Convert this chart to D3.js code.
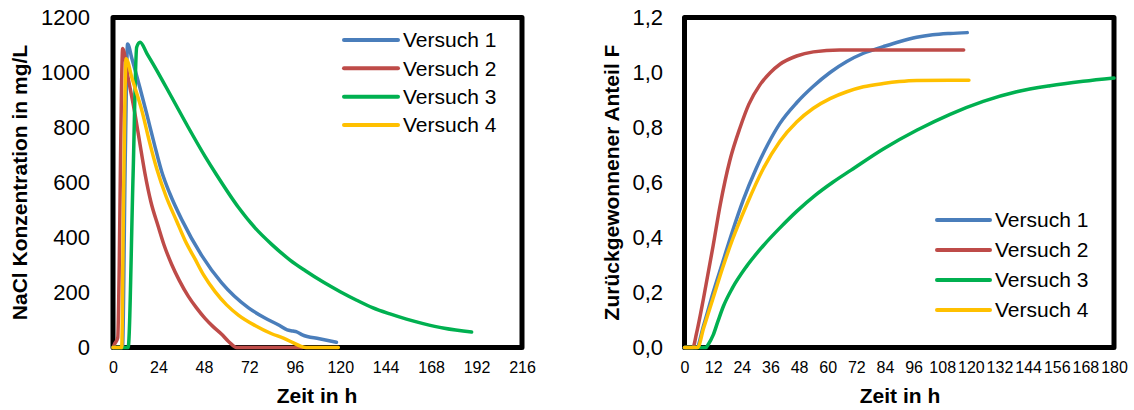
<!DOCTYPE html>
<html>
<head>
<meta charset="utf-8">
<script src="https://cdn.jsdelivr.net/npm/d3@7"></script>
<style>
  body { margin: 0; background: #fff; }
  svg { font-family: "Liberation Sans", Arial, sans-serif; }
</style>
</head>
<body>
<svg id="chart" width="1134" height="410"></svg>
<script>
// series names and colours
const seriesNames = ["Versuch 1", "Versuch 2", "Versuch 3", "Versuch 4"];
const seriesColors = ["#4A7EBB", "#BE4B48", "#00B050", "#FFC000"];

// left chart: NaCl concentration (mg/L) over time (h)
const concTime1 = [0, 5, 6.5, 7.7, 10, 14, 17.8, 22, 25.7, 30, 36.3, 46.8, 57.4, 71.4, 80, 88, 92, 95, 97, 100, 109, 118];
const conc1 = [0, 0, 700, 1104, 1050, 950, 850, 735, 640, 560, 465, 335, 235, 145, 108, 80, 64, 60, 57, 46, 32, 19];
const concTime2 = [0, 1, 2.5, 3.3, 4, 5.1, 8, 11.6, 14, 16.9, 20, 23.9, 27, 31, 35, 39.8, 44, 48.6, 53, 57.4, 61, 65.3, 100];
const conc2 = [0, 15, 35, 300, 700, 1087, 980, 850, 750, 632, 530, 440, 372, 302, 244, 186, 145, 106, 75, 48, 22, 0, 0];
const concTime3 = [0, 8, 10.6, 12.5, 14.3, 18, 22.2, 31, 39.8, 48.6, 54.5, 66.2, 75, 83.8, 93.5, 101.4, 111, 120, 128.7, 137, 146.3, 155, 163.8, 175, 189.4];
const conc3 = [0, 0, 625, 1092, 1110, 1068, 1019, 910, 800, 695, 630, 510, 435, 375, 318, 280, 238, 203, 172, 145, 122, 103, 87, 70, 56];
const concTime4 = [0, 4.6, 5.5, 6.9, 10, 15.5, 19, 23.1, 28, 33.6, 38, 43.3, 48, 53.9, 60, 66.2, 75, 83.8, 90, 95, 99, 102, 119];
const conc4 = [0, 0, 500, 1050, 980, 855, 755, 650, 550, 460, 390, 322, 262, 203, 155, 118, 80, 50, 34, 18, 5, 0, 0];
const concTicksX = [0, 24, 48, 72, 96, 120, 144, 168, 192, 216];
const concTicksY = [0, 200, 400, 600, 800, 1000, 1200];

// right chart: recovered fraction F over time (h)
const fracTime1 = [0, 5, 8, 12, 16, 20, 24.6, 30, 35, 40, 47, 54, 61, 68, 75, 83.3, 90, 97.3, 104, 111.3, 118.5];
const frac1 = [0, 0, 0.08, 0.2, 0.31, 0.42, 0.536, 0.65, 0.74, 0.815, 0.89, 0.95, 1.0, 1.04, 1.07, 1.094, 1.112, 1.128, 1.137, 1.142, 1.145];
const fracTime2 = [0, 3.5, 5, 8, 12, 15, 19, 23.3, 27, 31.6, 36, 40, 47, 54, 65, 117];
const frac2 = [0, 0, 0.05, 0.18, 0.37, 0.52, 0.68, 0.8, 0.885, 0.955, 1.0, 1.03, 1.06, 1.075, 1.082, 1.082];
const fracTime3 = [0, 9, 10, 12, 14, 16.3, 20, 26, 33, 40, 47, 55, 62, 69.8, 83.3, 97.3, 111.3, 125.2, 139.2, 153.2, 167.1, 180];
const frac3 = [0, 0, 0.012, 0.045, 0.095, 0.15, 0.215, 0.295, 0.37, 0.435, 0.495, 0.555, 0.6, 0.645, 0.722, 0.79, 0.848, 0.895, 0.93, 0.952, 0.968, 0.98];
const fracTime4 = [0, 5.5, 8, 12, 16, 20, 26.1, 33, 40, 47, 54, 61, 68, 75, 83.3, 90, 97.3, 111.3, 119.2];
const frac4 = [0, 0, 0.07, 0.18, 0.29, 0.39, 0.52, 0.65, 0.75, 0.82, 0.87, 0.905, 0.93, 0.948, 0.96, 0.967, 0.971, 0.972, 0.972];
const fracTicksX = [0, 12, 24, 36, 48, 60, 72, 84, 96, 108, 120, 132, 144, 156, 168, 180];
const fracTicksY = [0, 0.2, 0.4, 0.6, 0.8, 1.0, 1.2];

function zip(ts, vs) {
    return ts.map((t, i) => ({ t: t, v: vs[i] }));
}

const svg = d3.select("#chart");

drawChart({
    left: 113, right: 522, top: 17.5, bottom: 347.5,
    xMax: 216, yMax: 1200,
    xTicks: concTicksX, yTicks: concTicksY,
    yFormat: d3.format("d"),
    yPad: 23,
    yTitle: "NaCl Konzentration in mg/L", yTitleX: 27,
    xTitleX: 317,
    series: [zip(concTime1, conc1), zip(concTime2, conc2), zip(concTime3, conc3), zip(concTime4, conc4)],
    legend: { x1: 344, x2: 398, tx: 403, rows: [40, 68.3, 96.7, 125] }
});

drawChart({
    left: 684.5, right: 1114, top: 17.5, bottom: 347.5,
    xMax: 180, yMax: 1.2,
    xTicks: fracTicksX, yTicks: fracTicksY,
    yFormat: d => d.toFixed(1).replace(".", ","),
    yPad: 21.5,
    yTitle: "Zurückgewonnener Anteil F", yTitleX: 619,
    xTitleX: 900,
    series: [zip(fracTime1, frac1), zip(fracTime2, frac2), zip(fracTime3, frac3), zip(fracTime4, frac4)],
    legend: { x1: 937, x2: 990, tx: 995, rows: [220, 250, 280, 310] }
});

function drawChart(c) {
    let x = d3.scaleLinear().domain([0, c.xMax]).range([c.left, c.right]);
    let y = d3.scaleLinear().domain([0, c.yMax]).range([c.bottom, c.top]);

    // y tick labels
    let yAxis = svg.append("g")
        .attr("transform", "translate(" + c.left + ",0)")
        .call(d3.axisLeft(y).tickValues(c.yTicks).tickFormat(c.yFormat).tickSize(0).tickPadding(c.yPad));
    yAxis.select(".domain").remove();
    yAxis.selectAll("text").attr("font-size", 22).attr("fill", "#000")
        .style("font-family", "'Liberation Sans', Arial, sans-serif");

    // x tick labels
    let xAxis = svg.append("g")
        .attr("transform", "translate(0," + c.bottom + ")")
        .call(d3.axisBottom(x).tickValues(c.xTicks).tickSize(0).tickPadding(14));
    xAxis.select(".domain").remove();
    xAxis.selectAll("text").attr("font-size", 16).attr("fill", "#000")
        .style("font-family", "'Liberation Sans', Arial, sans-serif");

    // plot frame
    svg.append("rect")
        .attr("x", c.left)
        .attr("y", c.top)
        .attr("width", c.right - c.left)
        .attr("height", c.bottom - c.top)
        .attr("fill", "none")
        .attr("stroke", "#000")
        .attr("stroke-width", 5)
        .attr("stroke-linejoin", "round");

    // axis titles
    svg.append("text")
        .attr("transform", "translate(" + c.yTitleX + "," + ((c.top + c.bottom) / 2) + ") rotate(-90)")
        .attr("text-anchor", "middle")
        .attr("font-size", 21)
        .attr("font-weight", "bold")
        .text(c.yTitle);

    svg.append("text")
        .attr("x", c.xTitleX)
        .attr("y", 403)
        .attr("text-anchor", "middle")
        .attr("font-size", 21)
        .attr("font-weight", "bold")
        .text("Zeit in h");

    // series lines
    let line = d3.line()
        .x(d => x(d.t))
        .y(d => y(d.v))
        .curve(d3.curveMonotoneX);

    svg.append("g").selectAll("path")
        .data(c.series)
        .enter()
        .append("path")
        .attr("d", line)
        .attr("fill", "none")
        .attr("stroke", (d, i) => seriesColors[i])
        .attr("stroke-width", 3.5)
        .attr("stroke-linecap", "round")
        .attr("stroke-linejoin", "round");

    // legend
    let leg = svg.append("g").selectAll("g")
        .data(seriesNames)
        .enter()
        .append("g");
    leg.append("line")
        .attr("x1", c.legend.x1)
        .attr("x2", c.legend.x2)
        .attr("y1", (d, i) => c.legend.rows[i])
        .attr("y2", (d, i) => c.legend.rows[i])
        .attr("stroke", (d, i) => seriesColors[i])
        .attr("stroke-width", 4)
        .attr("stroke-linecap", "round");
    leg.append("text")
        .attr("x", c.legend.tx)
        .attr("y", (d, i) => c.legend.rows[i])
        .attr("dy", "0.35em")
        .attr("font-size", 21)
        .text(d => d);
}
</script>
</body>
</html>
